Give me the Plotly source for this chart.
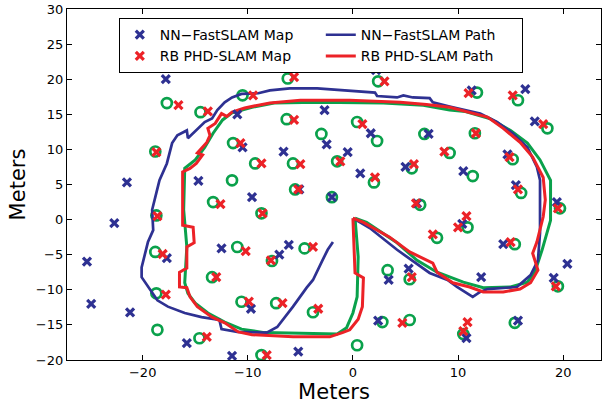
import plotly.graph_objects as go

# ---------------- data (meters) ----------------
nn_map_x = [-17.8, -5.7, 2.2, 16.4, -11.0, -2.7, -2.5, -6.6, -0.5, -10.5, -21.5, -14.7, -5.1, -9.6,
            0.7, 1.7, 7.2, 11.3, 5.0, 10.5, 14.7, 15.5, 19.4, -12.5, -6.1, -7.0, -17.7, -22.7,
            -25.3, -24.9, -21.2, -9.7, -15.8, -11.5, -5.2, -2.0, 10.4, 6.1, 14.3, 20.4, 3.4,
            5.3, 12.2, 19.1, 2.4, 10.8, 15.7, 17.3]
nn_map_y = [20.0, 21.8, 21.3, 18.6, 15.0, 15.6, 10.7, 9.7, 9.6, 10.3, 5.3, 5.5, 4.3, 3.2,
            6.6, 12.3, 12.2, 18.4, 7.5, 6.9, 9.3, 4.9, 2.5, -4.1, -3.6, -5.0, -5.5, -0.5,
            -6.0, -12.0, -13.2, -12.7, -17.6, -19.4, -18.8, 3.2, -0.6, 2.3, -3.5, -6.3, -8.6,
            -7.0, -8.2, -8.3, -14.4, -16.9, -14.4, 14.0]

rb_map_x = [-16.6, -13.8, -9.5, -5.6, -5.6, -10.7, -18.7, -8.7, -5.0, -1.2, 3.0, 0.9, 11.0,
            15.2, 18.1, 11.7, 8.7, 14.9, 2.1, 5.8, 15.7, 19.5, -5.2, -12.6, -8.6, -18.6,
            -18.1, -10.2, -7.8, -3.8, -13.0, -17.8, -9.9, -6.7, -3.3, -13.9, -8.2, 6.0, 10.8,
            10.0, 7.6, 15.0, 5.6, 19.3, 4.7, 10.9, 10.5]
rb_map_y = [16.3, 15.4, 17.7, 20.3, 14.2, 10.9, 9.6, 8.0, 7.9, 8.3, 19.7, 13.6, 18.0,
            17.7, 13.6, 12.3, 9.7, 8.9, 6.0, 7.9, 4.3, 1.6, 4.3, 2.2, 0.9, 0.5,
            -4.9, -4.5, -5.8, -3.9, -8.2, -10.7, -11.7, -11.9, -12.7, -16.7, -19.3, 2.3, 0.5,
            -1.1, -2.1, -3.2, -8.2, -9.5, -14.7, -14.6, -15.9]

true_map_x = [-17.7, -14.5, -10.5, -6.2, -6.3, -3.0, -11.4, -18.8, -9.3, -5.7, -1.5, -11.5,
              -5.5, -13.3, -2.0, 2.4, 0.4, 2.3, 6.8, 11.8, 15.7, 18.5, 11.6, 9.2, 15.2, 2.0,
              5.6, 11.4, 16.0, 19.7, -8.7, -18.7, -18.8, -11.0, -7.7, -4.6, -13.4, -18.7,
              -10.6, -7.3, -3.8, -18.6, -14.6, -8.7, 0.4, 6.4, 10.9, 8.0, 15.4, 3.3, 5.4,
              19.5, 2.8, 5.4, 10.5, 15.4]
true_map_y = [16.6, 15.3, 17.7, 20.1, 14.3, 12.2, 10.9, 9.7, 8.0, 8.0, 8.3, 5.6,
              4.3, 2.5, 3.2, 19.7, 13.9, 11.2, 12.2, 18.1, 17.0, 13.0, 12.3, 9.5, 8.6, 5.3,
              7.3, 6.2, 3.8, 1.6, 0.9, 0.6, -4.6, -3.9, -5.9, -4.1, -8.2, -10.5,
              -11.7, -11.9, -13.2, -15.7, -16.9, -19.3, -17.9, 2.1, -1.1, -2.6, -3.5, -7.2, -8.5,
              -9.5, -14.6, -14.3, -16.3, -14.7]

nn_path_x = [-1.9, -2.4, -2.9, -3.8, -4.4, -5.7, -7.2, -8.2, -11.0, -12.5, -12.7, -14.4, -16.0,
             -17.6, -18.6, -19.3, -20.1, -20.1, -19.5, -19.0, -19.1, -18.7, -18.4, -17.7, -17.2,
             -16.7, -15.8, -15.7, -14.9, -14.1, -13.4, -12.9, -12.2, -11.5, -10.6, -9.0, -7.9,
             -6.0, -3.4, -0.3, 2.1, 2.3, 4.2, 4.8, 5.7, 7.3, 7.6, 9.2, 12.1, 13.7, 15.2, 16.6,
             17.5, 17.8, 17.8, 17.6, 16.9, 15.6, 12.8, 12.1, 11.4, 9.9, 9.0, 7.3, 4.2, 1.6, 0.0]
nn_path_y = [-3.2, -4.3, -5.8, -8.6, -9.7, -12.4, -15.3, -16.1, -16.0, -15.6, -14.3, -13.9, -13.3,
             -12.4, -11.5, -10.0, -8.2, -6.8, -3.2, -1.5, 1.4, 3.8, 5.6, 8.0, 10.9,
             12.0, 12.7, 11.6, 12.7, 13.9, 14.4, 15.6, 16.7, 17.4, 17.9, 18.0, 18.4,
             18.7, 18.7, 18.4, 18.1, 17.6, 17.4, 17.7, 17.4, 17.3, 16.7, 16.1, 15.1, 13.9, 12.3, 10.3,
             7.5, 5.6, -1.9, -5.8, -7.9, -9.6, -9.9, -10.3, -11.0, -9.6, -8.6, -7.6, -4.3, -1.2, 0.2]

rb_path_x = [0.0, 0.2, 1.0, 0.9, 0.5, -0.3, -1.0, -2.2, -5.7, -9.6, -10.9, -12.2, -13.4, -14.8,
             -15.5, -15.8, -16.5, -16.5, -15.8, -15.8, -15.1, -15.2, -16.2, -16.2, -15.5, -14.9,
             -14.3, -14.8, -13.9, -13.6, -13.8, -13.1, -12.5, -12.0, -11.5, -10.3, -9.0, -7.9,
             -5.0, -0.3, 4.5, 7.0, 9.2, 12.8, 14.3, 15.9, 17.1, 18.1, 18.3, 18.1, 17.5, 17.1,
             17.6, 16.9, 15.9, 14.3, 12.4, 11.1, 9.5, 8.0, 7.6, 5.4, 3.5, 1.9, 1.0, 0.0]
rb_path_y = [0.2, -7.6, -8.3, -12.4, -14.2, -15.7, -16.1, -16.7, -16.7, -16.4, -16.0, -14.7, -13.9, -12.4,
             -11.0, -9.7, -9.6, -7.5, -6.9, -3.9, -3.3, -1.1, -0.8, 6.8, 7.3, 8.0,
             9.2, 9.5, 11.0, 12.0, 13.0, 13.7, 15.1, 14.7, 15.3, 15.9, 16.3, 16.6,
             17.0, 17.0, 16.7, 16.4, 16.0, 14.6, 13.0, 11.0, 8.9, 6.0, 2.8, 0.4, -3.2, -4.8,
             -7.2, -9.0, -9.9, -10.3, -10.3, -9.6, -9.0, -7.5, -6.2, -4.6, -2.5, -1.1, -0.4, 0.2]

true_path_x = [0.2, 0.5, 0.4, 0.0, -0.6, -1.5, -8.4, -10.6, -12.2, -13.8, -15.0, -15.7, -16.0,
               -15.8, -16.1, -16.0, -15.0, -14.1, -13.3, -12.4, -11.5, -9.6, -7.5, -3.4, 2.9, 6.7,
               9.2, 10.7, 13.0, 15.0, 16.6, 17.8, 18.8, 18.8, 18.0, 17.3, 16.6, 15.0, 12.4, 10.5,
               8.0, 6.1, 4.2, 1.3, 0.2]
true_path_y = [0.2, -5.3, -11.0, -13.3, -15.4, -16.3, -16.1, -15.6, -14.6, -13.3, -11.9, -10.5, -9.0,
               -3.9, 1.4, 7.3, 8.5, 10.3, 12.3, 14.2, 15.2, 16.0, 16.6, 16.7, 16.6, 16.3,
               15.6, 15.4, 14.4, 12.7, 10.9, 8.5, 5.6, -0.1, -4.3, -7.5, -8.9, -9.6, -9.7, -8.9,
               -7.5, -5.8, -3.3, -0.4, 0.2]

x_ticks = [-20, -10, 0, 10, 20]
y_ticks = [-20, -15, -10, -5, 0, 5, 10, 15, 20, 25, 30]

BLUE = "#2E3192"
RED = "#EC2227"
GREEN = "#0AA14B"
FONT = "DejaVu Sans"

fig = go.Figure()
fig.add_trace(go.Scatter(x=true_map_x, y=true_map_y, mode="markers", showlegend=False,
                         marker=dict(symbol="circle-open", size=10, color=GREEN,
                                     line=dict(width=2.7, color=GREEN))))
fig.add_trace(go.Scatter(x=true_path_x, y=true_path_y, mode="lines", showlegend=False,
                         line=dict(color=GREEN, width=3)))
fig.add_trace(go.Scatter(x=nn_path_x, y=nn_path_y, mode="lines", name="NN\u2212FastSLAM Path",
                         legendrank=2, line=dict(color=BLUE, width=2.7)))
fig.add_trace(go.Scatter(x=rb_path_x, y=rb_path_y, mode="lines", name="RB PHD-SLAM Path",
                         legendrank=4, line=dict(color=RED, width=3)))
fig.add_trace(go.Scatter(x=nn_map_x, y=nn_map_y, mode="markers", name="NN\u2212FastSLAM Map",
                         legendrank=1,
                         marker=dict(symbol="x-thin", size=8, color=BLUE,
                                     line=dict(width=3.2, color=BLUE))))
fig.add_trace(go.Scatter(x=rb_map_x, y=rb_map_y, mode="markers", name="RB PHD-SLAM Map",
                         legendrank=3,
                         marker=dict(symbol="x-thin", size=8, color=RED,
                                     line=dict(width=3.2, color=RED))))

axis_common = dict(showline=True, linecolor="black", linewidth=1.3, mirror="ticks",
                   ticks="inside", ticklen=5, tickwidth=1, tickcolor="black",
                   showgrid=False, zeroline=False,
                   tickfont=dict(family=FONT, size=13, color="black"))

fig.update_xaxes(range=[-27.2, 23.6], tickvals=x_ticks, **axis_common,
                 title=dict(text="Meters", font=dict(family=FONT, size=21, color="black"),
                            standoff=2))
fig.update_yaxes(range=[-20, 30], tickvals=y_ticks, **axis_common,
                 title=dict(text="Meters", font=dict(family=FONT, size=21, color="black"),
                            standoff=4))

fig.update_layout(
    width=603, height=408,
    margin=dict(l=67, r=2, t=9, b=48),
    plot_bgcolor="white", paper_bgcolor="white",
    legend=dict(orientation="h", x=0.097, y=0.974, xanchor="left", yanchor="top",
                bgcolor="white", bordercolor="black", borderwidth=1,
                entrywidth=156, traceorder="normal",
                font=dict(family=FONT, size=14, color="black")),
)

fig.write_html("out.html", config={"displayModeBar": False},
               post_script="document.body.style.margin='0';document.body.style.overflow='hidden';")
